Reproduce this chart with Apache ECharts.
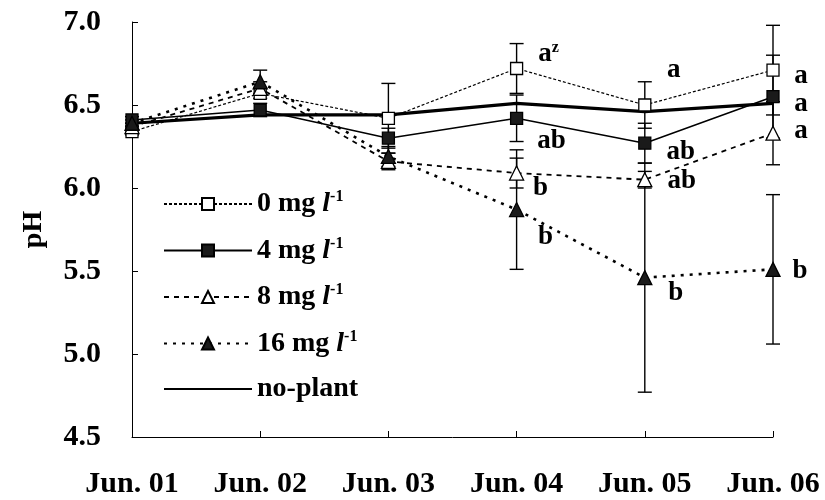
<!DOCTYPE html>
<html>
<head>
<meta charset="utf-8">
<script src="https://cdn.jsdelivr.net/npm/echarts@6/dist/echarts.min.js"></script>
<style>
  html, body { margin: 0; padding: 0; background: #ffffff; }
  #chart { width: 825px; height: 500px; }
</style>
</head>
<body>
<div id="chart"></div>
<script>
// Sampling dates
const dates = ['Jun. 01', 'Jun. 02', 'Jun. 03', 'Jun. 04', 'Jun. 05', 'Jun. 06'];

// Mean pH and standard deviation for each treatment
const ph0  = [6.34, 6.57, 6.42, 6.72, 6.50, 6.71];
const sd0  = [0.02, 0.03, 0.21, 0.15, 0.14, 0.27];
const ph4  = [6.41, 6.47, 6.30, 6.42, 6.27, 6.55];
const sd4  = [0.02, 0.04, 0.06, 0.14, 0.12, 0.25];
const ph8  = [6.37, 6.60, 6.16, 6.09, 6.05, 6.33];
const sd8  = [0.02, 0.04, 0.05, 0.09, 0.05, 0.19];
const ph16 = [6.39, 6.64, 6.19, 5.87, 5.46, 5.51];
const sd16 = [0.02, 0.07, 0.06, 0.36, 0.69, 0.45];
const phNoPlant = [6.39, 6.44, 6.44, 6.51, 6.46, 6.51];

// Mean separation letters (and footnote mark)
const sig0  = ['', '', '', 'a', 'a', 'a'];
const note0 = ['', '', '', 'z', '', ''];
const sig4  = ['', '', '', 'ab', 'ab', 'a'];
const sig8  = ['', '', '', 'b', 'ab', 'a'];
const sig16 = ['', '', '', 'b', 'b', 'b'];

// Series names
const names = ['0 mg l-1', '4 mg l-1', '8 mg l-1', '16 mg l-1', 'no-plant'];

// y axis range
const yMin = 4.5, yMax = 7.0, yStep = 0.5;

const serif = "'Liberation Serif', 'DejaVu Serif', serif";
const fs = 28;
const axisFs = 30;

// Where each letter sits relative to its marker
const letterOffsets = {
  0:  [null, null, null, [32, -14], [29, -35], [28, 6]],
  4:  [null, null, null, [35, 23], [36, 9], [28, 7]],
  8:  [null, null, null, [24, 15], [37, 1], [28, -2]],
  16: [null, null, null, [29, 27], [31, 15], [27, 2]]
};

const letterRich = {
  l: { fontFamily: serif, fontWeight: 'bold', fontSize: 27, color: '#000', lineHeight: 30 },
  s: { fontFamily: serif, fontWeight: 'bold', fontSize: 16, color: '#000', lineHeight: 16, verticalAlign: 'top' }
};

function withLetters(values, letters, notes, offs) {
  return values.map(function (v, i) {
    if (!letters[i]) return v;
    const txt = '{l|' + letters[i] + '}' + (notes && notes[i] ? '{s|' + notes[i] + '}' : '');
    return {
      value: v,
      label: {
        show: true,
        position: 'inside',
        offset: offs[i],
        formatter: txt,
        rich: letterRich
      }
    };
  });
}

function errorData(values, sds) {
  return values.map(function (v, i) { return [i, v, sds[i]]; });
}

function errorSeries(values, sds) {
  return {
    type: 'custom',
    silent: true,
    z: 1,
    data: errorData(values, sds),
    renderItem: function (params, api) {
      const x = api.value(0);
      const m = api.value(1);
      const s = api.value(2);
      const top = api.coord([x, m + s]);
      const bot = api.coord([x, m - s]);
      const hw = 7;
      const st = { stroke: '#000', lineWidth: 1.4, fill: null };
      return {
        type: 'group',
        children: [
          { type: 'line', shape: { x1: top[0], y1: top[1], x2: bot[0], y2: bot[1] }, style: st },
          { type: 'line', shape: { x1: top[0] - hw, y1: top[1], x2: top[0] + hw, y2: top[1] }, style: st },
          { type: 'line', shape: { x1: bot[0] - hw, y1: bot[1], x2: bot[0] + hw, y2: bot[1] }, style: st }
        ]
      };
    }
  };
}

function lineSeries(name, data, symbol, fill, lineType, width, size) {
  return {
    name: name,
    type: 'line',
    z: 3,
    data: data,
    symbol: symbol,
    symbolSize: size,
    showAllSymbol: true,
    itemStyle: { color: fill, borderColor: '#000', borderWidth: 1.3 },
    lineStyle: { color: '#000', width: width, type: lineType },
    emphasis: { disabled: true },
    animation: false
  };
}

const legendRich = {
  t: { fontFamily: serif, fontWeight: 'bold', fontSize: fs, color: '#000', lineHeight: 30 },
  i: { fontFamily: serif, fontWeight: 'bold', fontStyle: 'italic', fontSize: fs, color: '#000', lineHeight: 30 },
  s: { fontFamily: serif, fontWeight: 'bold', fontSize: 16, color: '#000', lineHeight: 16, verticalAlign: 'top' }
};

const chart = echarts.init(document.getElementById('chart'), null, { renderer: 'canvas' });

chart.setOption({
  animation: false,
  backgroundColor: '#ffffff',
  grid: { left: 132, right: 52, top: 22, bottom: 63, containLabel: false },
  legend: {
    orient: 'vertical',
    left: 158,
    top: 184,
    itemWidth: 88,
    itemHeight: 15,
    itemGap: 17.5,
    selectedMode: false,
    data: [
      names[0], names[1], names[2], names[3],
      { name: names[4], itemStyle: { color: 'rgba(0,0,0,0)', borderColor: 'rgba(0,0,0,0)', opacity: 0 } }
    ],
    formatter: function (name) {
      if (name === 'no-plant') return '{t|no-plant}';
      const num = name.split(' ')[0];
      return '{t|' + num + ' mg }{i|l}{s|-1}';
    },
    textStyle: { rich: legendRich, color: '#000' }
  },
  xAxis: {
    type: 'category',
    data: dates,
    boundaryGap: false,
    axisLine: { lineStyle: { color: '#000', width: 1 } },
    axisTick: { inside: true, length: 6, lineStyle: { color: '#000' } },
    axisLabel: { fontFamily: serif, fontWeight: 'bold', fontSize: axisFs, color: '#000', margin: 32 },
    splitLine: { show: false }
  },
  yAxis: {
    type: 'value',
    min: yMin,
    max: yMax,
    interval: yStep,
    name: 'pH',
    nameLocation: 'middle',
    nameGap: 84,
    nameTextStyle: { fontFamily: serif, fontWeight: 'bold', fontSize: fs, color: '#000' },
    axisLine: { show: true, lineStyle: { color: '#000', width: 1 } },
    axisTick: { show: true, inside: true, length: 6, lineStyle: { color: '#000' } },
    axisLabel: {
      fontFamily: serif, fontWeight: 'bold', fontSize: axisFs, color: '#000', margin: 31,
      formatter: function (v) { return v.toFixed(1); }
    },
    splitLine: { show: false }
  },
  series: [
    errorSeries(ph0, sd0),
    errorSeries(ph4, sd4),
    errorSeries(ph8, sd8),
    errorSeries(ph16, sd16),
    lineSeries(names[4], phNoPlant, 'none', '#000', 'solid', 3.2, 0),
    lineSeries(names[0], withLetters(ph0, sig0, note0, letterOffsets[0]), 'rect', '#ffffff', [3, 2], 1.2, 12),
    lineSeries(names[1], withLetters(ph4, sig4, null, letterOffsets[4]), 'rect', '#1a1a1a', 'solid', 1.5, 12),
    lineSeries(names[2], withLetters(ph8, sig8, null, letterOffsets[8]), 'triangle', '#ffffff', [5, 5], 1.8, 14),
    lineSeries(names[3], withLetters(ph16, sig16, null, letterOffsets[16]), 'triangle', '#1a1a1a', [3, 6], 2.6, 14)
  ]
});
</script>
</body>
</html>
